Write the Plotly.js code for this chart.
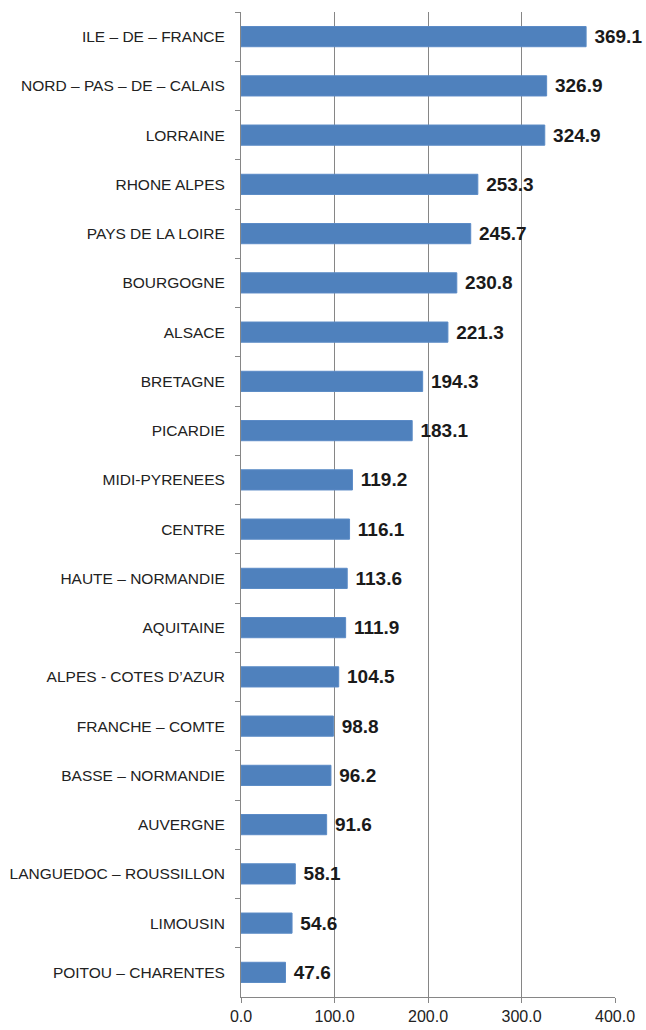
<!DOCTYPE html>
<html>
<head>
<meta charset="utf-8">
<script src="https://cdn.plot.ly/plotly-3.0.1.min.js"></script>
<style>html,body{margin:0;padding:0;background:#fff;}#chart{width:646px;height:1030px;}</style>
</head>
<body>
<div id="chart"></div>
<script>
const regions = [
  "ILE – DE – FRANCE",
  "NORD – PAS – DE – CALAIS",
  "LORRAINE",
  "RHONE ALPES",
  "PAYS DE LA LOIRE",
  "BOURGOGNE",
  "ALSACE",
  "BRETAGNE",
  "PICARDIE",
  "MIDI-PYRENEES",
  "CENTRE",
  "HAUTE – NORMANDIE",
  "AQUITAINE",
  "ALPES - COTES D’AZUR",
  "FRANCHE – COMTE",
  "BASSE – NORMANDIE",
  "AUVERGNE",
  "LANGUEDOC – ROUSSILLON",
  "LIMOUSIN",
  "POITOU – CHARENTES"
];
const values = [369.1, 326.9, 324.9, 253.3, 245.7, 230.8, 221.3, 194.3, 183.1, 119.2,
                116.1, 113.6, 111.9, 104.5, 98.8, 96.2, 91.6, 58.1, 54.6, 47.6];
const xTickValues = [0, 100, 200, 300, 400];
const xTickLabels = ["0.0", "100.0", "200.0", "300.0", "400.0"];

const gray = "#868686";
const trace = {
  type: "bar",
  orientation: "h",
  y: regions,
  x: values,
  marker: {color: "#4F81BD", line: {color: "#5B8BC6", width: 1}},
  text: values.map(v => "\u00a0" + v.toFixed(1)),
  textposition: "outside",
  constraintext: "none",
  cliponaxis: false,
  textfont: {family: "Liberation Sans, Arial, sans-serif", size: 19, color: "#1a1a1a", weight: "bold"},
  outsidetextfont: {family: "Liberation Sans, Arial, sans-serif", size: 19, color: "#1a1a1a", weight: "bold"},
  hoverinfo: "none"
};

const layout = {
  width: 646,
  height: 1030,
  margin: {l: 241, r: 31, t: 12, b: 33},
  paper_bgcolor: "#fff",
  plot_bgcolor: "#fff",
  showlegend: false,
  bargap: 0.59,
  font: {family: "Liberation Sans, Arial, sans-serif", color: "#222"},
  xaxis: {
    range: [0, 400],
    tickvals: xTickValues,
    ticktext: xTickLabels,
    showgrid: true,
    gridcolor: gray,
    gridwidth: 1,
    zeroline: false,
    showline: true,
    linecolor: gray,
    linewidth: 1,
    ticks: "outside",
    ticklen: 5,
    tickcolor: gray,
    tickfont: {size: 16, color: "#222"},
    fixedrange: true
  },
  yaxis: {
    type: "category",
    autorange: "reversed",
    showgrid: false,
    zeroline: false,
    showline: true,
    linecolor: gray,
    linewidth: 1,
    ticks: "outside",
    tickson: "boundaries",
    ticklen: 5,
    tickcolor: gray,
    ticklabelstandoff: 12,
    tickfont: {size: 15.5, color: "#222"},
    fixedrange: true
  }
};

Plotly.newPlot("chart", [trace], layout, {displayModeBar: false, staticPlot: true});
</script>
</body>
</html>
